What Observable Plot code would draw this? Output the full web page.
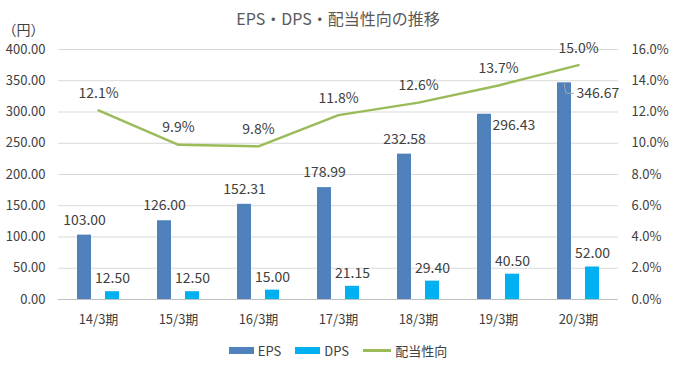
<!DOCTYPE html>
<html>
<head>
<meta charset="utf-8">
<script src="https://cdn.jsdelivr.net/npm/d3@7"></script>
<script src="https://cdn.jsdelivr.net/npm/@observablehq/plot@0.6"></script>
<style>
  html, body { margin: 0; padding: 0; background: #fff; }
  body { position: relative; width: 676px; height: 374px; overflow: hidden; font-family: "Noto Sans CJK JP", "Noto Sans", sans-serif; color: #595959; }
  #title { position: absolute; top: 0; left: 0; width: 676px; height: 36px; line-height: 36px; text-align: center; font-size: 16px; color: #595959; z-index: 2; }
  #legend { display: flex; justify-content: center; align-items: center; font-size: 13px; line-height: 19px; color: #404040; margin-top: 1px; }
  .item { display: flex; align-items: center; margin: 0 7px; }
  .sw { display: inline-block; width: 25px; height: 7px; margin-right: 4px; }
  .ln { display: inline-block; width: 28px; height: 3px; margin-right: 4px; }
  svg { display: block; }
</style>
</head>
<body>
<div id="title">EPS・DPS・配当性向の推移</div>
<div id="chart"></div>
<div id="legend">
  <span class="item"><span class="sw" style="background:#4F81BD"></span>EPS</span>
  <span class="item"><span class="sw" style="background:#00B0F0"></span>DPS</span>
  <span class="item"><span class="ln" style="background:#9BBB59"></span>配当性向</span>
</div>
<script>
const categories = ["14/3期", "15/3期", "16/3期", "17/3期", "18/3期", "19/3期", "20/3期"];
const eps = [103.00, 126.00, 152.31, 178.99, 232.58, 296.43, 346.67];
const dps = [12.50, 12.50, 15.00, 21.15, 29.40, 40.50, 52.00];
const payoutRatio = [12.1, 9.9, 9.8, 11.8, 12.6, 13.7, 15.0];
const leftTicks = [0, 50, 100, 150, 200, 250, 300, 350, 400];
const rightTicks = [0, 2, 4, 6, 8, 10, 12, 14, 16];
const unitLabel = "（円）";

const scaleFactor = 400 / 16; // right axis % -> left axis yen
const rows = categories.map((c, i) => ({cat: c, eps: eps[i], dps: dps[i], ratio: payoutRatio[i], i}));

const font = '"Noto Sans CJK JP", "Noto Sans", sans-serif';
const labelColor = "#404040";
const lastIdx = rows.length - 1;

const leader = (index, scales) => {
  const r = rows[lastIdx];
  const bw = scales.x.bandwidth ? scales.x.bandwidth() : 80;
  const x0 = scales.x(r.cat) + bw / 2 - 14;
  const y0 = scales.y(r.eps);
  const g = d3.create("svg:path")
    .attr("d", `M${x0},${y0 + 1}L${x0 + 2},${y0 + 11}L${x0 + 10},${y0 + 11}`)
    .attr("fill", "none").attr("stroke", "#A6A6A6").attr("stroke-width", 1);
  return g.node();
};

const chart = Plot.plot({
  width: 676,
  height: 340,
  marginTop: 49,
  marginBottom: 41,
  marginLeft: 58,
  marginRight: 58,
  style: {fontFamily: font, fontSize: "13px", color: "#595959", background: "#fff"},
  x: {domain: categories, padding: 0, label: null},
  y: {domain: [0, 400], label: null},
  marks: [
    Plot.ruleY(leftTicks.slice(1), {stroke: "#D9D9D9", strokeWidth: 1}),
    Plot.ruleY([0], {stroke: "#BFBFBF", strokeWidth: 1}),
    Plot.axisX({tickSize: 0, tickPadding: 15, fontSize: 13, fill: labelColor, label: null}),
    Plot.axisY({anchor: "left", ticks: leftTicks, tickSize: 0, tickPadding: 13, tickFormat: d => d.toFixed(2), fill: labelColor, label: null}),
    Plot.axisY({anchor: "right", ticks: rightTicks.map(v => v * scaleFactor), tickSize: 0, tickPadding: 13, tickFormat: d => (d / scaleFactor).toFixed(1) + "%", fill: labelColor, label: null}),
    Plot.barY(rows, {x: "cat", y: "eps", fill: "#4F81BD", insetLeft: 19, insetRight: 47}),
    Plot.barY(rows, {x: "cat", y: "dps", fill: "#00B0F0", insetLeft: 47, insetRight: 19}),
    Plot.lineY(rows, {x: "cat", y: d => d.ratio * scaleFactor, stroke: "#9BBB59", strokeWidth: 2.5}),
    Plot.text(rows.filter(d => d.i < 5), {x: "cat", y: "eps", text: d => d.eps.toFixed(2), dx: -14, dy: -15, fontSize: 14, fill: labelColor}),
    Plot.text(rows.filter(d => d.i === 5), {x: "cat", y: "eps", text: d => d.eps.toFixed(2), dx: -6, dy: 11, textAnchor: "start", fontSize: 14, fill: labelColor}),
    Plot.text(rows.filter(d => d.i === lastIdx), {x: "cat", y: "eps", text: d => d.eps.toFixed(2), dx: -2, dy: 11, textAnchor: "start", fontSize: 14, fill: labelColor}),
    leader,
    Plot.text(rows, {x: "cat", y: "dps", text: d => d.dps.toFixed(2), dx: 14, dy: -13, fontSize: 14, fill: labelColor}),
    Plot.text(rows, {x: "cat", y: d => d.ratio * scaleFactor, text: d => d.ratio.toFixed(1) + "%", dy: -17, fontSize: 14, fill: labelColor}),
    Plot.text([unitLabel], {frameAnchor: "top-left", textAnchor: "middle", lineAnchor: "middle", text: d => d, dx: -35, dy: -19, fontSize: 14, fill: labelColor})
  ]
});
document.getElementById("chart").appendChild(chart);
</script>
</body>
</html>
